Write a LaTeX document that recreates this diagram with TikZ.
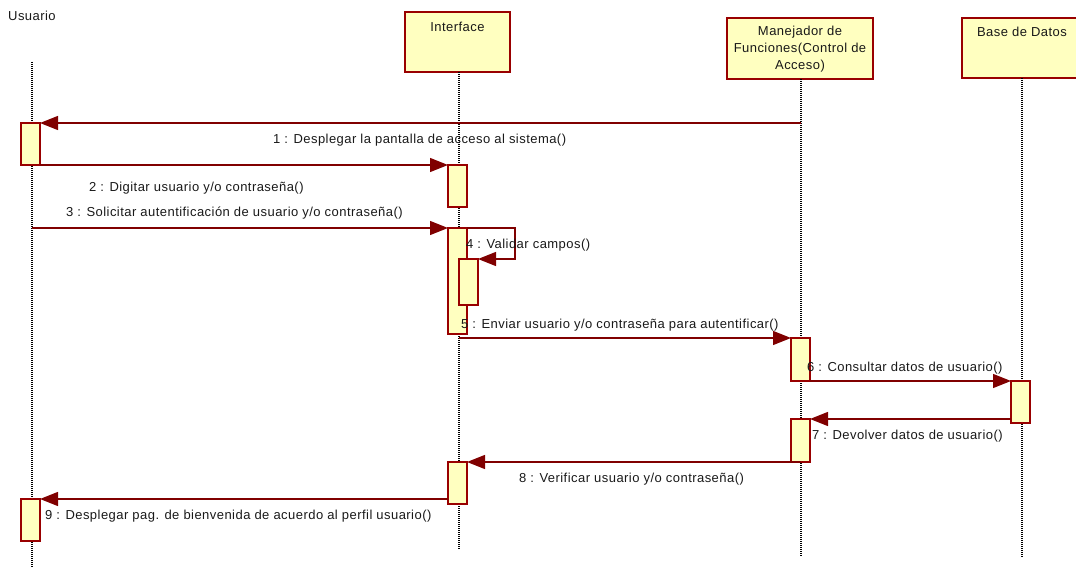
\documentclass[tikz,border=0pt]{standalone}
\usepackage{fontspec}
\setmainfont{Liberation Sans}
\newfontfamily\lblfont[LetterSpace=3.5]{Liberation Sans}
\usetikzlibrary{arrows.meta}
\definecolor{umlred}{HTML}{990000}
\definecolor{msgred}{HTML}{800000}
\definecolor{umlfill}{HTML}{FFFFC0}
\begin{document}
\begin{tikzpicture}[x=1pt,y=-1pt,
  txt/.style={font=\lblfont\fontsize{13}{15}\selectfont, inner sep=0pt, text=black!90},
  hdr/.style={draw=umlred, fill=umlfill, line width=1.6pt, inner sep=0pt, outer sep=0pt, anchor=north west},
  act/.style={draw=umlred, fill=umlfill, line width=1.6pt, inner sep=0pt, outer sep=0pt, anchor=north west, minimum width=19pt, minimum height=42pt},
  life/.style={draw=black, line width=1.1pt, dash pattern=on 1pt off 1pt},
  msg/.style={draw=msgred, line width=1.4pt, -{Triangle[length=18pt,width=14pt]}}]
\useasboundingbox (0,0) rectangle (1076,567);
% headers
\node[txt, anchor=west] (uname) at (8,16) {Usuario};
\node[hdr, minimum width=105pt, minimum height=60pt] (ifc) at (405,12) {};
\node[txt, anchor=north] (ifct) at ([yshift=-10pt]ifc.north) {Interface};
\node[hdr, minimum width=146pt, minimum height=61pt] (mgr) at (727,18) {};
\node[txt, anchor=north, align=center, font=\lblfont\fontsize{13}{17}\selectfont] (mgrt) at ([yshift=-8pt]mgr.north) {Manejador de\\Funciones(Control de\\Acceso)};
\node[hdr, minimum width=120pt, minimum height=60pt] (bdd) at (962,18) {};
\node[txt, anchor=north] (bddt) at ([yshift=-9pt]bdd.north -| 1022,0) {Base de Datos};
% lifelines
\coordinate (ul0) at (32,62);
\coordinate (ul1) at (32,567);
\coordinate (il1) at (459,550);
\coordinate (ml1) at (801,557);
\coordinate (bl1) at (1022,557);
\draw[life] (ul0) -- (ul1);
\draw[life] (ifc.south -| il1) -- (il1);
\draw[life] (mgr.south -| ml1) -- (ml1);
\draw[life] (bdd.south -| bl1) -- (bl1);
% activations
\node[act] (ua1) at (21,123) {};
\node[act] (ia2) at (448,165) {};
\node[act, minimum height=106pt] (ia3) at (448,228) {};
\node[act, minimum height=46pt] (ia4) at (459,259) {};
\node[act, minimum height=43pt] (ma5) at (791,338) {};
\node[act] (ba) at (1011,381) {};
\node[act, minimum height=43pt] (ma7) at (791,419) {};
\node[act] (ia8) at (448,462) {};
\node[act] (ua9) at (21,499) {};
% messages
\coordinate (m1s) at (801,123);
\coordinate (m3s) at (32,228);
\coordinate (m4a) at (515,228);
\coordinate (m4b) at (515,259);
\coordinate (m5s) at (459,338);
\coordinate (m7s) at (1011,419);
\coordinate (m9s) at (448,499);
\draw[msg] (m1s) -- (ua1.north east);
\draw[msg] (ua1.south east) -- (ia2.north west);
\draw[msg] (m3s) -- (ia3.north west);
\draw[msg] (ia3.north east) -- (m4a) -- (m4b) -- (ia4.north east);
\draw[msg] (m5s) -- (ma5.north west);
\draw[msg] (ma5.south east) -- (ba.north west);
\draw[msg] (m7s) -- (ma7.north east);
\draw[msg] (ma7.south) -- (ia8.north east);
\draw[msg] (m9s) -- (ua9.north east);
% labels
\node[txt, anchor=west] (l1) at (273,140) {1 : Desplegar la pantalla de acceso al sistema()};
\node[txt, anchor=west] (l2) at (89,188) {2 : Digitar usuario y/o contraseña()};
\node[txt, anchor=west] (l3) at (66,213) {3 : Solicitar autentificación de usuario y/o contraseña()};
\node[txt, anchor=west] (l4) at (466,245) {4 : Validar campos()};
\node[txt, anchor=west] (l5) at (461,325) {5 : Enviar usuario y/o contraseña para autentificar()};
\node[txt, anchor=west] (l6) at (807,368) {6 : Consultar datos de usuario()};
\node[txt, anchor=west] (l7) at (812,436) {7 : Devolver datos de usuario()};
\node[txt, anchor=west] (l8) at (519,479) {8 : Verificar usuario y/o contraseña()};
\node[txt, anchor=west] (l9) at (45,516) {9 : Desplegar pag. de bienvenida de acuerdo al perfil usuario()};
\end{tikzpicture}
\end{document}
